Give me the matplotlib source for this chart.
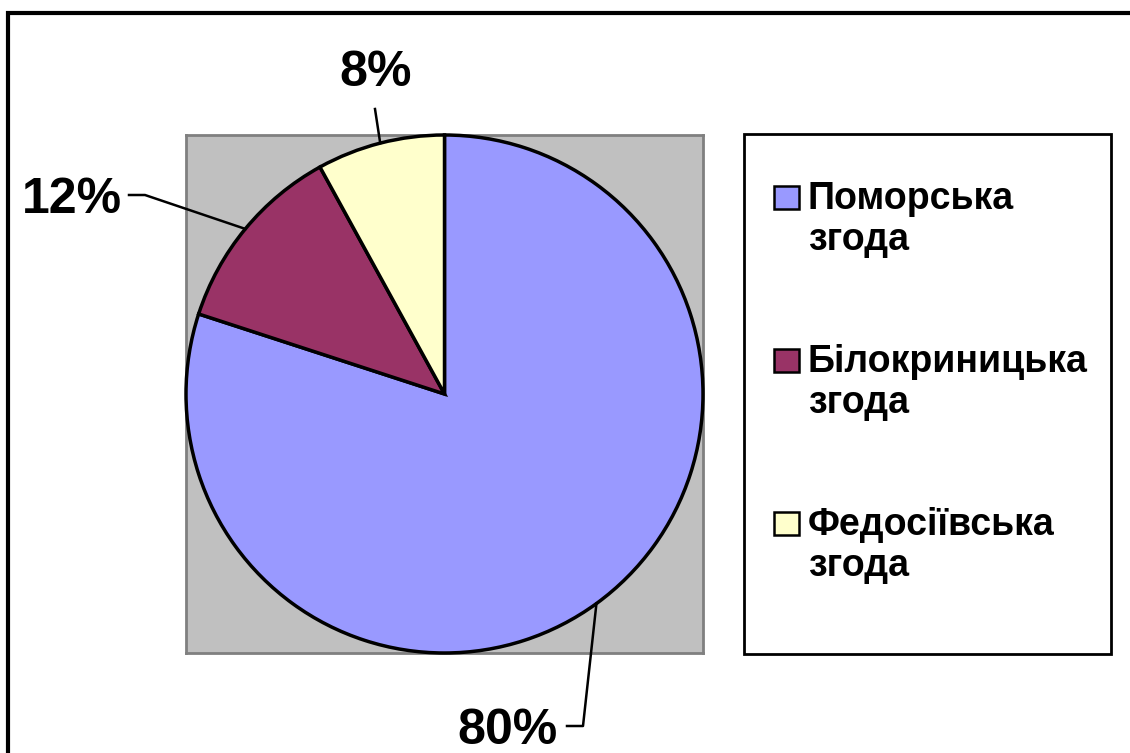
import numpy as np
import matplotlib
matplotlib.use("Agg")
import matplotlib.pyplot as plt
from matplotlib.patches import Rectangle
from matplotlib.lines import Line2D

# ---- data ----
categories = ["Поморська\nзгода", "Білокриницька\nзгода", "Федосіївська\nзгода"]
shares = [80, 12, 8]
colors = ["#9999FF", "#993366", "#FFFFCC"]

W, H = 1130, 753
fig = plt.figure(figsize=(W / 100, H / 100), dpi=100)
plt.rcParams['font.family'] = ['Liberation Sans', 'DejaVu Sans']

def fx(px):
    return px / W

def fy(py):
    return 1 - py / H

# outer frame (extends beyond right/bottom edges)
fig.patches.append(Rectangle((fx(8), fy(1200)), fx(1400), fy(13) - fy(1200),
                             transform=fig.transFigure, fill=False, edgecolor="black",
                             linewidth=3, zorder=0))

# pie axes (gray plot area)
ax = fig.add_axes([fx(186), fy(653), fx(703) - fx(186), fy(135) - fy(653)])
wedges, _ = ax.pie(shares, colors=colors, startangle=90, counterclock=False,
                   radius=1.0, frame=True,
                   wedgeprops=dict(edgecolor="black", linewidth=2.5))
for w in wedges:
    w.set_clip_on(False)
    w.set_zorder(3)
ax.set_facecolor("#C0C0C0")
for s in ax.spines.values():
    s.set_visible(True)
    s.set_edgecolor("#808080")
    s.set_linewidth(2)
ax.set_xticks([]); ax.set_yticks([])
ax.set_xlim(-1, 1)
ax.set_ylim(-1, 1)
ax.set_aspect("auto")

fig.canvas.draw()

# data labels with leader lines
label_layout = [
    dict(pos=(558, 744), ha="right", elbow=[(567, 726), (583, 726)]),
    dict(pos=(122, 213), ha="right", elbow=[(129, 195), (145, 195)]),
    dict(pos=(376, 86), ha="center", elbow=[(375, 109)]),
]
for w, v, lay in zip(wedges, shares, label_layout):
    mid = np.deg2rad((w.theta1 + w.theta2) / 2)
    ex, ey = ax.transData.transform((np.cos(mid), np.sin(mid)))
    edge_fig = fig.transFigure.inverted().transform((ex, ey))
    pts = [(fx(p[0]), fy(p[1])) for p in lay["elbow"]] + [tuple(edge_fig)]
    xs, ys = zip(*pts)
    fig.add_artist(Line2D(xs, ys, transform=fig.transFigure, color="black", linewidth=1.8))
    fig.text(fx(lay["pos"][0]), fy(lay["pos"][1]), f"{v}%", ha=lay["ha"], va="baseline",
             fontsize=36, fontweight="bold", color="black")

# legend box
fig.patches.append(Rectangle((fx(744), fy(654)), fx(1111) - fx(744), fy(134) - fy(654),
                             transform=fig.transFigure, facecolor="white", edgecolor="black",
                             linewidth=2, zorder=1))
base_y = [209, 372, 535]
for w, lab, by in zip(wedges, categories, base_y):
    fig.patches.append(Rectangle((fx(774), fy(by)), fx(25), 23 / H,
                                 transform=fig.transFigure, facecolor=w.get_facecolor(),
                                 edgecolor="black", linewidth=1.8, zorder=2))
    l1, l2 = lab.split("\n")
    fig.text(fx(808), fy(by), l1, ha="left", va="baseline", fontsize=27,
             fontweight="bold", zorder=3)
    fig.text(fx(808), fy(by + 41), l2, ha="left", va="baseline", fontsize=27,
             fontweight="bold", zorder=3)

fig.savefig("out.png", dpi=100)
